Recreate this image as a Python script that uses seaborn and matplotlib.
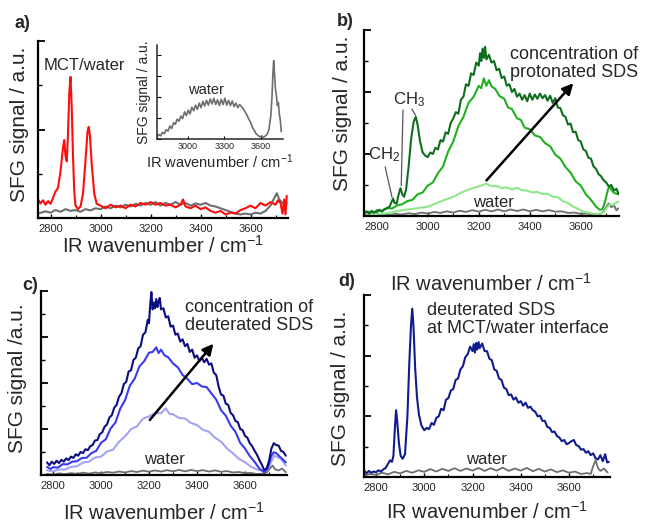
import numpy as np
import pandas as pd
import matplotlib
matplotlib.use("Agg")
import matplotlib.pyplot as plt
from matplotlib.ticker import MultipleLocator
import seaborn as sns

sns.set_style("ticks")
plt.rcParams['font.family'] = ['Liberation Sans', 'DejaVu Sans']
plt.rcParams['mathtext.fontset'] = 'custom'
plt.rcParams['mathtext.rm'] = 'Liberation Sans'
plt.rcParams['mathtext.it'] = 'Liberation Sans:italic'
plt.rcParams['mathtext.default'] = 'regular'

# ---------------- data ----------------
# panel a: MCT/water (red) and neat water (grey)
a_red_x = [2750, 2760, 2770, 2780, 2790, 2800, 2810, 2820, 2830, 2840, 2850, 2855, 2860, 2865, 2870, 2875,
           2880, 2885, 2890, 2895, 2900, 2910, 2920, 2930, 2940, 2948, 2953, 2958, 2965, 2975, 2985, 3000,
           3020, 3040, 3060, 3080, 3100, 3120, 3140, 3160, 3180, 3200, 3220, 3240, 3260, 3280, 3300, 3320,
           3330, 3340, 3360, 3380, 3400, 3420, 3440, 3460, 3480, 3500, 3520, 3540, 3560, 3580, 3600, 3620,
           3640, 3660, 3680, 3700, 3710, 3720, 3728, 3735, 3740, 3745]
a_red_y = [0.42, 0.33, 0.40, 0.30, 0.38, 0.32, 0.45, 0.60, 0.68, 1.05, 1.60, 1.76, 1.40, 1.28, 1.90, 2.80,
           3.19, 2.50, 1.40, 0.60, 0.28, 0.20, 0.26, 0.55, 1.30, 1.95, 2.06, 1.85, 1.20, 0.55, 0.32, 0.28,
           0.22, 0.30, 0.24, 0.28, 0.22, 0.30, 0.26, 0.34, 0.30, 0.36, 0.30, 0.34, 0.28, 0.30, 0.24, 0.30,
           0.42, 0.26, 0.22, 0.28, 0.20, 0.24, 0.16, 0.12, 0.16, 0.08, 0.12, 0.10, 0.18, 0.22, 0.28, 0.22,
           0.34, 0.28, 0.36, 0.30, 0.40, 0.34, 0.10, 0.42, 0.08, 0.50]
a_water_x = [2750, 2780, 2800, 2820, 2840, 2860, 2880, 2900, 2920, 2940, 2960, 2980, 3000, 3020, 3040, 3060,
             3080, 3100, 3120, 3140, 3160, 3180, 3200, 3220, 3240, 3260, 3280, 3300, 3320, 3340, 3360, 3380,
             3400, 3420, 3440, 3460, 3480, 3500, 3520, 3540, 3560, 3580, 3600, 3620, 3640, 3660, 3680, 3695,
             3705, 3715, 3725, 3735, 3745]
a_water_y = [0.10, 0.15, 0.12, 0.18, 0.14, 0.20, 0.16, 0.18, 0.14, 0.20, 0.17, 0.22, 0.20, 0.26, 0.22, 0.28,
             0.24, 0.30, 0.26, 0.32, 0.28, 0.34, 0.30, 0.36, 0.28, 0.34, 0.30, 0.36, 0.30, 0.34, 0.28, 0.33,
             0.30, 0.34, 0.28, 0.26, 0.22, 0.18, 0.14, 0.10, 0.08, 0.10, 0.08, 0.12, 0.10, 0.16, 0.28, 0.45,
             0.56, 0.42, 0.36, 0.30, 0.34]
# inset of panel a: neat water
inset_x = [2750, 2765, 2780, 2795, 2810, 2825, 2840, 2855, 2870, 2885, 2900, 2915, 2930, 2945, 2960, 2975,
           2990, 3005, 3020, 3035, 3050, 3065, 3080, 3095, 3110, 3125, 3140, 3155, 3170, 3185, 3200, 3215,
           3230, 3245, 3260, 3275, 3290, 3305, 3320, 3335, 3350, 3365, 3380, 3395, 3410, 3425, 3440, 3455,
           3470, 3485, 3500, 3515, 3530, 3545, 3560, 3575, 3590, 3605, 3620, 3635, 3650, 3665, 3680, 3690,
           3698, 3704, 3710, 3718, 3726, 3734, 3742, 3750, 3758, 3766]
inset_y = [0.10, 0.22, 0.15, 0.32, 0.25, 0.45, 0.38, 0.62, 0.50, 0.78, 0.70, 0.95, 0.85, 1.10, 0.98, 1.30,
           1.12, 1.38, 1.20, 1.52, 1.35, 1.62, 1.42, 1.72, 1.50, 1.80, 1.58, 1.85, 1.62, 1.92, 1.68, 1.95,
           1.65, 1.88, 1.60, 1.90, 1.65, 1.95, 1.62, 1.85, 1.60, 1.82, 1.55, 1.72, 1.50, 1.65, 1.55, 1.45,
           1.30, 1.15, 0.95, 0.80, 0.55, 0.42, 0.25, 0.18, 0.10, 0.15, 0.08, 0.14, 0.22, 0.45, 1.10, 2.00,
           3.20, 3.75, 3.20, 2.40, 2.10, 1.60, 1.75, 1.20, 0.90, 0.35]

# panel b: protonated SDS, three concentrations + water
b_dark_x = [2750, 2760, 2770, 2780, 2790, 2800, 2810, 2820, 2830, 2840, 2850, 2858, 2864, 2870, 2878, 2886,
            2893, 2900, 2907, 2915, 2925, 2935, 2945, 2953, 2960, 2970, 2980, 2990,
            3000, 3010, 3020, 3030, 3040, 3050, 3060, 3070, 3080, 3090, 3100, 3110, 3120, 3130, 3140, 3150,
            3160, 3170, 3180, 3190, 3200, 3205, 3210, 3215, 3220, 3225, 3230, 3240, 3250, 3260, 3270, 3280,
            3290, 3300, 3310, 3320, 3330, 3340, 3350, 3360, 3370, 3380, 3390, 3400, 3410, 3420, 3430, 3440,
            3450, 3460, 3470, 3480, 3490, 3500, 3510, 3520, 3530, 3540, 3550, 3560, 3570, 3580, 3590, 3600,
            3610, 3620, 3630, 3640, 3650, 3660, 3670, 3680, 3690, 3700, 3710, 3720, 3730, 3740, 3748]
b_dark_y = [0.09, 0.15, 0.08, 0.16, 0.12, 0.14, 0.20, 0.15, 0.22, 0.25, 0.30, 0.45, 0.56, 0.42, 0.40, 0.70,
            0.90, 0.70, 0.62, 0.85, 1.60, 2.50, 3.05, 3.20, 2.95, 2.40, 2.05, 1.95,
            1.90, 2.05, 2.00, 2.20, 2.15, 2.45, 2.40, 2.70, 2.65, 3.00, 3.15, 3.35, 3.30, 3.75, 3.85, 4.25,
            4.20, 4.60, 4.55, 4.95, 4.85, 5.25, 5.00, 5.40, 5.10, 5.46, 5.05, 5.20, 4.95, 5.00, 4.70, 4.75,
            4.45, 4.50, 4.20, 4.25, 4.00, 4.10, 3.85, 3.95, 3.75, 3.90, 3.70, 3.95, 3.75, 3.92, 3.78, 3.95,
            3.80, 3.90, 3.72, 3.88, 3.65, 3.80, 3.50, 3.48, 3.25, 3.20, 2.95, 2.98, 2.70, 2.72, 2.45, 2.40,
            2.15, 2.10, 1.88, 1.85, 1.60, 1.52, 1.35, 1.28, 1.15, 1.08, 0.95, 1.00, 0.82, 0.88, 0.72]
b_mid_x = [2750, 2770, 2790, 2800, 2820, 2840, 2860, 2880, 2900, 2920, 2940, 2960, 2980, 3000, 3020, 3040,
           3060, 3080, 3100, 3120, 3140, 3160, 3180, 3200, 3210, 3220, 3230, 3240, 3250, 3265, 3280, 3300,
           3315, 3330, 3350, 3365, 3380, 3400, 3420, 3440, 3460, 3480, 3500, 3520, 3540, 3560, 3580, 3600,
           3620, 3640, 3660, 3675, 3685, 3695, 3705, 3712, 3720, 3730, 3740, 3748]
b_mid_y = [0.09, 0.14, 0.10, 0.19, 0.15, 0.26, 0.24, 0.34, 0.38, 0.48, 0.52, 0.70, 0.76, 0.98, 1.08, 1.38,
           1.60, 2.08, 2.40, 2.90, 3.20, 3.65, 3.85, 4.20, 4.12, 4.44, 4.20, 4.38, 4.18, 4.10, 3.88, 3.78,
           3.50, 3.45, 3.15, 3.10, 2.85, 2.80, 2.60, 2.55, 2.35, 2.25, 1.98, 1.85, 1.58, 1.40, 1.12, 0.98,
           0.70, 0.52, 0.30, 0.20, 0.22, 0.45, 0.80, 0.98, 0.85, 0.75, 0.72, 0.70]
b_light_x = [2750, 2800, 2850, 2900, 2950, 3000, 3030, 3060, 3100, 3130, 3160, 3190, 3210, 3230, 3250, 3270,
             3290, 3310, 3330, 3350, 3370, 3390, 3410, 3430, 3450, 3470, 3490, 3510, 3530, 3550, 3570, 3590,
             3610, 3630, 3650, 3670, 3690, 3705, 3715, 3725, 3735, 3748]
b_light_y = [0.02, 0.05, 0.10, 0.19, 0.24, 0.30, 0.40, 0.50, 0.62, 0.75, 0.85, 0.93, 0.98, 1.04, 0.96, 0.97,
             0.90, 0.92, 0.86, 0.91, 0.83, 0.82, 0.76, 0.78, 0.71, 0.72, 0.62, 0.61, 0.48, 0.42, 0.30, 0.23,
             0.14, 0.11, 0.07, 0.06, 0.12, 0.30, 0.38, 0.35, 0.42, 0.46]
b_water_x = [2750, 2775, 2800, 2825, 2850, 2875, 2900, 2925, 2950, 2975, 3000, 3025, 3050, 3075, 3100, 3125,
             3150, 3175, 3200, 3225, 3250, 3275, 3300, 3325, 3350, 3375, 3400, 3425, 3450, 3475, 3500, 3525,
             3550, 3575, 3600, 3625, 3650, 3675, 3690, 3700, 3710, 3720, 3730, 3740, 3748]
b_water_y = [0.02, 0.05, 0.02, 0.06, 0.03, 0.07, 0.04, 0.09, 0.06, 0.11, 0.08, 0.13, 0.10, 0.15, 0.11, 0.17,
             0.13, 0.19, 0.14, 0.20, 0.15, 0.21, 0.15, 0.21, 0.16, 0.21, 0.15, 0.20, 0.15, 0.19, 0.14, 0.15,
             0.10, 0.11, 0.07, 0.08, 0.04, 0.06, 0.15, 0.30, 0.41, 0.28, 0.35, 0.18, 0.25]

# panel c: deuterated SDS, three concentrations + water
c_dark_x = [2775, 2785, 2795, 2805, 2815, 2825, 2835, 2845, 2855, 2865, 2875, 2885, 2895, 2905, 2915, 2925,
            2935, 2945, 2955, 2965, 2975, 2985, 2995, 3005, 3015, 3025, 3035, 3045, 3055, 3065, 3075, 3085,
            3095, 3105, 3115, 3125, 3135, 3145, 3155, 3165, 3175, 3185, 3195, 3200, 3205, 3210, 3215, 3220,
            3225, 3230, 3235, 3240, 3245, 3250, 3260, 3270, 3280, 3290, 3300, 3310, 3320, 3330, 3340, 3350,
            3360, 3370, 3380, 3390, 3400, 3410, 3420, 3430, 3440, 3450, 3460, 3470, 3480, 3490, 3500, 3510,
            3520, 3530, 3540, 3550, 3560, 3570, 3580, 3590, 3600, 3610, 3620, 3630, 3640, 3650, 3660, 3670,
            3680, 3690, 3700, 3710, 3720, 3730, 3740, 3750, 3760, 3770]
c_dark_y = [0.55, 0.42, 0.58, 0.48, 0.62, 0.52, 0.66, 0.58, 0.72, 0.65, 0.80, 0.74, 0.90, 0.84, 1.00, 0.95,
            1.12, 1.08, 1.25, 1.30, 1.50, 1.52, 1.78, 1.85, 2.10, 2.20, 2.50, 2.60, 2.92, 3.05, 3.40, 3.55,
            3.95, 4.05, 4.50, 4.55, 5.00, 5.10, 5.50, 5.60, 6.10, 6.20, 6.75, 6.60, 7.40, 7.95, 7.20, 7.50,
            7.25, 7.65, 7.30, 7.55, 7.70, 7.20, 7.25, 6.85, 6.90, 6.45, 6.50, 6.10, 6.15, 5.80, 5.90, 5.60,
            5.70, 5.35, 5.45, 5.10, 5.20, 4.95, 5.10, 4.90, 5.05, 4.80, 4.85, 4.45, 4.35, 3.85, 3.50, 3.45,
            3.10, 3.05, 2.70, 2.60, 2.35, 2.30, 2.00, 1.95, 1.70, 1.62, 1.38, 1.25, 1.05, 0.88, 0.65, 0.45,
            0.22, 0.28, 0.60, 1.15, 1.38, 1.30, 1.28, 1.05, 1.00, 0.84]
c_mid_x = [2775, 2790, 2800, 2820, 2840, 2860, 2880, 2900, 2920, 2940, 2960, 2980, 3000, 3020, 3040, 3060,
           3080, 3100, 3120, 3140, 3160, 3180, 3200, 3215, 3230, 3240, 3250, 3265, 3280, 3300, 3320, 3340,
           3360, 3380, 3400, 3420, 3440, 3460, 3480, 3500, 3520, 3540, 3560, 3580, 3600, 3620, 3640, 3660,
           3680, 3695, 3710, 3720, 3730, 3745, 3760, 3770]
c_mid_y = [0.35, 0.26, 0.34, 0.32, 0.47, 0.46, 0.58, 0.60, 0.74, 0.75, 0.95, 1.05, 1.40, 1.55, 2.02, 2.28,
           2.88, 3.25, 3.88, 4.18, 4.72, 4.95, 5.32, 5.35, 5.55, 5.30, 5.45, 5.20, 5.12, 4.85, 4.68, 4.35,
           4.18, 3.95, 4.00, 3.85, 3.82, 3.55, 3.28, 2.82, 2.58, 2.15, 1.88, 1.40, 1.15, 0.82, 0.57, 0.28,
           0.12, 0.30, 0.85, 0.99, 0.95, 0.80, 0.65, 0.55]
c_light_x = [2775, 2800, 2825, 2850, 2875, 2900, 2925, 2950, 2975, 3000, 3025, 3050, 3075, 3100, 3125, 3150,
             3175, 3200, 3225, 3250, 3270, 3285, 3300, 3325, 3350, 3375, 3400, 3425, 3450, 3475, 3500, 3525,
             3550, 3575, 3600, 3625, 3650, 3675, 3695, 3710, 3720, 3735, 3750, 3770]
c_light_y = [0.20, 0.16, 0.24, 0.24, 0.35, 0.38, 0.54, 0.58, 0.76, 0.80, 1.02, 1.10, 1.44, 1.68, 1.99, 2.12,
             2.45, 2.55, 2.70, 2.68, 2.90, 2.66, 2.64, 2.48, 2.46, 2.26, 2.17, 1.96, 1.88, 1.62, 1.45, 1.15,
             0.94, 0.70, 0.56, 0.36, 0.24, 0.18, 0.25, 0.60, 0.84, 0.78, 0.70, 0.41]
c_water_x = [2775, 2800, 2825, 2850, 2875, 2900, 2925, 2950, 2975, 3000, 3025, 3050, 3075, 3100, 3125, 3150,
             3175, 3200, 3225, 3250, 3275, 3300, 3325, 3350, 3375, 3400, 3425, 3450, 3475, 3500, 3525, 3550,
             3575, 3600, 3625, 3650, 3675, 3690, 3705, 3715, 3725, 3740, 3755, 3770]
c_water_y = [0.05, 0.02, 0.07, 0.04, 0.08, 0.05, 0.10, 0.06, 0.11, 0.08, 0.13, 0.10, 0.15, 0.11, 0.17, 0.13,
             0.19, 0.14, 0.20, 0.15, 0.21, 0.16, 0.22, 0.16, 0.22, 0.17, 0.21, 0.15, 0.20, 0.14, 0.17, 0.11,
             0.13, 0.08, 0.09, 0.04, 0.06, 0.10, 0.30, 0.41, 0.25, 0.20, 0.28, 0.12]

# panel d: deuterated SDS at MCT/water interface + water
d_sds_x = [2750, 2760, 2770, 2780, 2790, 2800, 2810, 2820, 2830, 2840, 2850, 2858, 2866, 2872, 2878, 2883,
           2888, 2895, 2902, 2910, 2920, 2930, 2938, 2945, 2950, 2955, 2962, 2970, 2978, 2988,
           3000, 3010, 3020, 3030, 3040, 3050, 3060, 3070, 3080, 3090, 3100, 3110, 3120, 3130, 3140, 3150,
           3160, 3170, 3180, 3190, 3200, 3205, 3210, 3215, 3220, 3225, 3230, 3240, 3250, 3260, 3270, 3280,
           3290, 3300, 3310, 3320, 3330, 3340, 3350, 3360, 3370, 3380, 3390, 3400, 3410, 3420, 3430, 3440,
           3450, 3460, 3470, 3480, 3490, 3500, 3510, 3520, 3530, 3540, 3550, 3560, 3570, 3580, 3590, 3600,
           3610, 3620, 3630, 3640, 3650, 3660, 3670, 3680, 3690, 3700, 3710, 3720, 3730, 3740, 3750, 3758,
           3765]
d_sds_y = [0.22, 0.12, 0.20, 0.14, 0.18, 0.16, 0.22, 0.18, 0.25, 0.30, 0.44, 0.55, 0.50, 0.70, 1.60, 2.20,
           1.80, 1.10, 0.70, 0.60, 0.75, 2.00, 3.80, 5.00, 5.55, 5.00, 3.60, 2.60, 2.05, 1.70,
           1.54, 1.62, 1.58, 1.78, 1.72, 1.95, 2.00, 2.25, 2.20, 2.55, 2.60, 2.85, 2.90, 3.20, 3.25, 3.55,
           3.65, 3.95, 4.05, 4.30, 4.15, 4.38, 4.10, 4.42, 4.20, 4.45, 4.25, 4.40, 4.15, 4.15, 3.90, 3.85,
           3.55, 3.50, 3.25, 3.20, 2.95, 2.90, 2.70, 2.72, 2.55, 2.62, 2.45, 2.50, 2.35, 2.45, 2.28, 2.32,
           2.20, 2.15, 2.00, 2.02, 1.85, 1.85, 1.65, 1.62, 1.48, 1.50, 1.35, 1.30, 1.18, 1.22, 1.08, 1.12,
           1.18, 1.22, 1.05, 1.02, 0.90, 0.92, 0.80, 0.85, 0.72, 0.78, 0.62, 0.58, 0.72, 0.52, 0.75, 0.48,
           0.50]
d_water_x = [2750, 2775, 2800, 2825, 2850, 2875, 2900, 2925, 2950, 2975, 3000, 3025, 3050, 3075, 3100, 3125,
             3150, 3175, 3200, 3225, 3250, 3275, 3300, 3325, 3350, 3375, 3400, 3425, 3450, 3475, 3500, 3525,
             3550, 3575, 3600, 3625, 3650, 3675, 3690, 3700, 3710, 3720, 3730, 3745, 3760]
d_water_y = [0.05, 0.10, 0.07, 0.14, 0.09, 0.17, 0.12, 0.20, 0.14, 0.22, 0.17, 0.26, 0.18, 0.27, 0.20, 0.29,
             0.20, 0.28, 0.21, 0.30, 0.20, 0.29, 0.21, 0.31, 0.20, 0.28, 0.21, 0.30, 0.19, 0.27, 0.18, 0.25,
             0.16, 0.22, 0.14, 0.18, 0.10, 0.13, 0.10, 0.35, 0.55, 0.30, 0.20, 0.28, 0.15]

xlabel = "IR wavenumber / cm$^{-1}$"

GREY = "#6e6e6e"
RED = "#ff0d0d"
G_DARK, G_MID, G_LIGHT = "#0f6e1e", "#20b020", "#8ee88a"
B_DARK, B_MID, B_LIGHT = "#0c0c82", "#3a3aee", "#a4a4f4"
D_NAVY = "#101c8c"

W, H = 646, 523
fig = plt.figure(figsize=(W / 100, H / 100), dpi=100)


def px_axes(left, top, right, bottom):
    return fig.add_axes([left / W, 1 - bottom / H, (right - left) / W, (bottom - top) / H])


def style(ax, xlim, ymax, major, minor, tick_fs=8, xpad=4):
    ax.set_xlim(*xlim)
    ax.set_ylim(0, ymax)
    ax.xaxis.set_major_locator(MultipleLocator(200))
    ax.xaxis.set_minor_locator(MultipleLocator(100))
    ax.yaxis.set_major_locator(MultipleLocator(major))
    ax.yaxis.set_minor_locator(MultipleLocator(minor))
    ax.tick_params(axis='both', which='both', direction='in', color='black')
    ax.tick_params(axis='y', which='major', length=5, width=1.3, labelleft=False)
    ax.tick_params(axis='y', which='minor', length=3, width=1.0)
    ax.tick_params(axis='x', which='major', length=3, width=1.0, labelsize=tick_fs, pad=xpad)
    ax.tick_params(axis='x', which='minor', length=2, width=0.8)
    for s in ('top', 'right'):
        ax.spines[s].set_visible(False)
    for s in ('left', 'bottom'):
        ax.spines[s].set_linewidth(1.6)
        ax.spines[s].set_color('black')
    ax.set_facecolor('none')


def line(ax, x, y, color, lw=1.5):
    sns.lineplot(x=x, y=y, ax=ax, color=color, lw=lw, estimator=None)


def ylab(ax, text, xfrac, yfrac, fs=15):
    ax.set_ylabel(text, fontsize=fs, va='center')
    ax.yaxis.set_label_coords(xfrac, yfrac)


# ---------------- panel a ----------------
axa = px_axes(38, 41, 288, 218)
line(axa, a_water_x, a_water_y, GREY)
line(axa, a_red_x, a_red_y, RED)
style(axa, (2750, 3750), 4, 2, 1)
axa.set_xlabel(xlabel, fontsize=14.5, labelpad=1)
ylab(axa, "SFG signal / a.u.", -0.075, 0.53)
axa.text(2935, 3.45, "MCT/water", fontsize=12, ha='center', va='center')

# inset
axi = px_axes(157, 45, 283, 139)
line(axi, inset_x, inset_y, GREY, lw=1.2)
axi.set_xlim(2750, 3780)
axi.set_ylim(0, 4.5)
axi.xaxis.set_major_locator(MultipleLocator(300))
axi.xaxis.set_minor_locator(MultipleLocator(300))
axi.yaxis.set_major_locator(MultipleLocator(1))
axi.tick_params(axis='both', which='both', direction='in', color='black')
axi.tick_params(axis='y', length=3, labelleft=False)
axi.tick_params(axis='x', length=2, labelsize=6.5, pad=2)
for s in ('top', 'right'):
    axi.spines[s].set_visible(False)
for s in ('left', 'bottom'):
    axi.spines[s].set_linewidth(1.1)
axi.set_facecolor('none')
axi.set_xlabel(xlabel, fontsize=10.5, labelpad=1)
ylab(axi, "SFG signal / a.u.", -0.1, 0.5, fs=10)
axi.text(3150, 2.35, "water", fontsize=10.5, ha='center', va='center')

# ---------------- panel b ----------------
axb = px_axes(364, 30, 619, 216)
line(axb, b_water_x, b_water_y, GREY, lw=1.3)
line(axb, b_light_x, b_light_y, G_LIGHT)
line(axb, b_mid_x, b_mid_y, G_MID)
line(axb, b_dark_x, b_dark_y, G_DARK)
style(axb, (2750, 3750), 6, 2, 1)
axb.set_xlabel(xlabel, fontsize=14.5, labelpad=30)
ylab(axb, "SFG signal / a.u.", -0.085, 0.55)
axb.annotate('', xy=(3578, 4.35), xytext=(3223, 1.08),
             arrowprops=dict(arrowstyle='-|>', color='black', lw=1.8, mutation_scale=16))
axb.text(3575, 4.92, "concentration of\nprotonated SDS", fontsize=13, ha='center', va='center',
         linespacing=1.1, clip_on=False)
axb.text(3256, 0.45, "water", fontsize=12, ha='center', va='center')
axb.text(2928, 3.74, "CH$_3$", fontsize=12, ha='center', va='center')
axb.text(2828, 1.97, "CH$_2$", fontsize=12, ha='center', va='center')
axb.plot([2903, 2896], [3.42, 0.98], color='#555555', lw=0.9)
axb.plot([2938, 2952], [3.45, 3.25], color='#555555', lw=0.9)
axb.plot([2833, 2860], [1.58, 0.60], color='#555555', lw=0.9)

# ---------------- panel c ----------------
axc = px_axes(41, 291, 287, 475)
line(axc, c_water_x, c_water_y, GREY, lw=1.3)
line(axc, c_light_x, c_light_y, B_LIGHT)
line(axc, c_mid_x, c_mid_y, B_MID)
line(axc, c_dark_x, c_dark_y, B_DARK)
style(axc, (2750, 3775), 8, 2, 1)
axc.set_xlabel(xlabel, fontsize=14.5, labelpad=8)
ylab(axc, "SFG signal /a.u.", -0.095, 0.527)
axc.annotate('', xy=(3476, 5.8), xytext=(3196, 2.3),
             arrowprops=dict(arrowstyle='-|>', color='black', lw=1.8, mutation_scale=16))
axc.text(3619, 6.88, "concentration of\ndeuterated SDS", fontsize=13, ha='center', va='center',
         linespacing=1.1, clip_on=False)
axc.text(3265, 0.67, "water", fontsize=12, ha='center', va='center')

# ---------------- panel d ----------------
axd = px_axes(364, 295, 610, 477)
line(axd, d_water_x, d_water_y, GREY, lw=1.3)
line(axd, d_sds_x, d_sds_y, D_NAVY)
style(axd, (2750, 3770), 6, 2, 1)
axd.set_xlabel(xlabel, fontsize=14.5, labelpad=6)
ylab(axd, "SFG signal / a.u.", -0.095, 0.49)
axd.text(3013, 5.2, "deuterated SDS\nat MCT/water interface", fontsize=13, ha='left', va='center',
         linespacing=1.1)
axd.text(3258, 0.58, "water", fontsize=12, ha='center', va='center')

# panel letters
for lab, (px, py) in {"a)": (22, 24), "b)": (345, 22), "c)": (30, 286), "d)": (347, 282)}.items():
    fig.text(px / W, 1 - py / H, lab, fontsize=13, fontweight='bold', ha='center', va='center')

fig.savefig("out.png", dpi=100)
